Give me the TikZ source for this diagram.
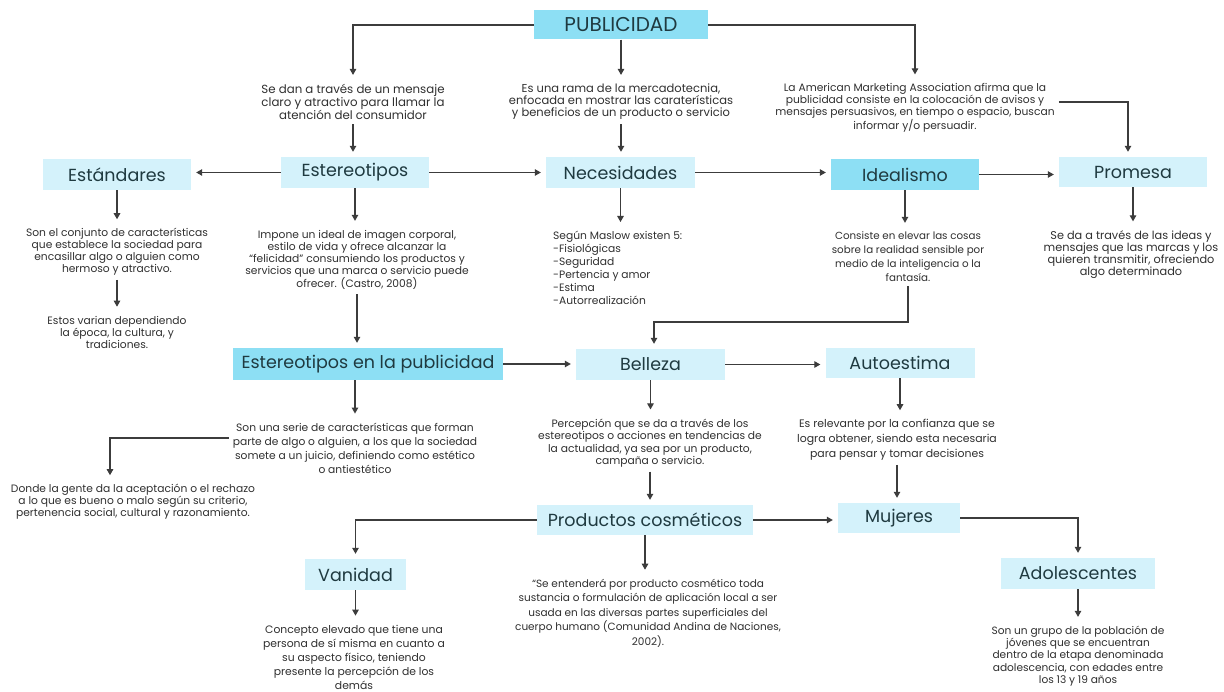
\documentclass[tikz,border=0pt]{standalone}
\usepackage{fontspec}
\setmainfont{Poppins}
\usetikzlibrary{arrows.meta}
\definecolor{lightb}{HTML}{D4F2FB}
\definecolor{strongb}{HTML}{8DDFF4}
\definecolor{ink}{HTML}{1F3A40}
\definecolor{txt}{HTML}{303030}
\definecolor{ln}{HTML}{3C3C3C}
\tikzset{
 box/.style={fill=lightb, minimum height=31pt, inner sep=0pt, text=ink, font=\fontsize{17.5}{19}\selectfont},
 sbox/.style={box, fill=strongb},
 txtn/.style={align=center, text=txt, inner xsep=4pt, inner ysep=4pt, font=\fontsize{10.7}{12}\selectfont},
 arr/.style={draw=ln, line width=1.1pt, -{Triangle[length=6pt,width=6.5pt]}, shorten >=5pt},
}
\begin{document}
\begin{tikzpicture}[x=1pt,y=-1pt]
\fill[white] (0,0) rectangle (1224,692);
\useasboundingbox (0,0) rectangle (1224,692);
% boxes
\node[sbox, minimum width=174pt, minimum height=29pt, font=\fontsize{20}{22}\selectfont] (pub) at (621,25) {PUBLICIDAD};
\node[box, minimum width=148pt] (estand) at (117,174.5) {Estándares};
\node[box, minimum width=148pt] (estereo) at (355,172.5) {Estereotipos};
\node[box, minimum width=149pt] (neces) at (620.5,172.5) {Necesidades};
\node[sbox, minimum width=148pt] (ideal) at (905,174.5) {Idealismo};
\node[box, minimum width=148pt, minimum height=30pt] (promesa) at (1133,172) {Promesa};
\node[sbox, minimum width=270pt, minimum height=32pt] (eep) at (368,364) {Estereotipos en la publicidad};
\node[box, minimum width=149pt] (belleza) at (650.5,364.5) {Belleza};
\node[box, minimum width=149pt, minimum height=30pt] (autoest) at (900,363) {Autoestima};
\node[box, minimum width=216pt, minimum height=30pt] (prod) at (645,520) {Productos cosméticos};
\node[box, minimum width=122pt, minimum height=30pt] (mujeres) at (899,518) {Mujeres};
\node[box, minimum width=101pt] (vanidad) at (355.5,574.5) {Vanidad};
\node[box, minimum width=154pt] (adol) at (1078,573.5) {Adolescentes};
% texts
\node[txtn, font=\fontsize{11.8}{11.7}\selectfont] (t1) at (353,102) {Se dan a través de un mensaje\\claro y atractivo para llamar la\\atención del consumidor};
\node[txtn, font=\fontsize{11.5}{12}\selectfont] (t2) at (621,102) {Es una rama de la mercadotecnia,\\enfocada en mostrar las caraterísticas\\y beneficios de un producto o servicio};
\node[txtn] (t3) at (915,108) {La American Marketing Association afirma que la\\publicidad consiste en la colocación de avisos y\\mensajes persuasivos, en tiempo o espacio, buscan\\informar y/o persuadir.};
\node[txtn] (t4) at (117,252) {Son el conjunto de características\\que establece la sociedad para\\encasillar algo o alguien como\\hermoso y atractivo.};
\node[txtn] (t5) at (117,332) {Estos varian dependiendo\\la época, la cultura, y\\tradiciones.};
\node[txtn] (t6) at (357,260) {Impone un ideal de imagen corporal,\\estilo de vida y ofrece alcanzar la\\“felicidad” consumiendo los productos y\\servicios que una marca o servicio puede\\ofrecer. (Castro, 2008)};
\node[txtn, align=left, anchor=north west, font=\fontsize{10.7}{13}\selectfont] (t7) at (549,227) {Según Maslow existen 5:\\-Fisiológicas\\-Seguridad\\-Pertencia y amor\\-Estima\\-Autorrealización};
\node[txtn, font=\fontsize{10.3}{14}\selectfont] (t8) at (908,257) {Consiste en elevar las cosas\\sobre la realidad sensible por\\medio de la inteligencia o la\\fantasía.};
\node[txtn, font=\fontsize{11.3}{12}\selectfont] (t9) at (1131,254.5) {Se da a través de las ideas y\\mensajes que las marcas y los\\quieren transmitir, ofreciendo\\algo determinado};
\node[txtn, font=\fontsize{10.7}{14}\selectfont] (t10) at (355,448) {Son una serie de características que forman\\parte de algo o alguien, a los que la sociedad\\somete a un juicio, definiendo como estético\\o antiestético};
\node[txtn] (t11) at (133,502) {Donde la gente da la aceptación o el rechazo\\a lo que es bueno o malo según su criterio,\\pertenencia social, cultural y razonamiento.};
\node[txtn, font=\fontsize{10.7}{12.5}\selectfont] (t12) at (650,443) {Percepción que se da a través de los\\estereotipos o acciones en tendencias de\\la actualidad, ya sea por un producto,\\campaña o servicio.};
\node[txtn, font=\fontsize{10.9}{15}\selectfont] (t13) at (897,440) {Es relevante por la confianza que se\\logra obtener, siendo esta necesaria\\para pensar y tomar decisiones};
\node[txtn, font=\fontsize{10.8}{14}\selectfont] (t14) at (354,657) {Concepto elevado que tiene una\\persona de sí misma en cuanto a\\su aspecto físico, teniendo\\presente la percepción de los\\demás};
\node[txtn, font=\fontsize{10.5}{14.5}\selectfont] (t15) at (648,613) {“Se entenderá por producto cosmético toda\\sustancia o formulación de aplicación local a ser\\usada en las diversas partes superficiales del\\cuerpo humano (Comunidad Andina de Naciones,\\2002).};
\node[txtn, font=\fontsize{10.6}{12.2}\selectfont] (t16) at (1078,656) {Son un grupo de la población de\\jóvenes que se encuentran\\dentro de la etapa denominada\\adolescencia, con edades entre\\los 13 y 19 años};
\coordinate (bk) at (654,322);
% connectors
\draw[arr] (pub.west) -| (t1.north);
\draw[arr] (pub.east) -| (t3.north);
\draw[arr] (pub.south) -- (pub.south |- t2.north);
\draw[arr] (t1.south) -- (t1.south |- estereo.north);
\draw[arr] (t2.south) -- (t2.south |- neces.north);
\draw[arr] ([yshift=6pt]t3.east) -| ([xshift=-5pt]promesa.north);
\draw[arr] (estereo.west) -- (estereo.west -| estand.east);
\draw[arr] (estereo.east) -- (estereo.east -| neces.west);
\draw[arr] (neces.east) -- (neces.east -| ideal.west);
\draw[arr] (ideal.east) -- (ideal.east -| promesa.west);
\draw[arr] (estand.south) -- (estand.south |- t4.north);
\draw[arr] (t4.south) -- (t4.south |- t5.north);
\draw[arr] (estereo.south) -- (estereo.south |- t6.north);
\draw[arr] (t6.south) -- (t6.south |- eep.north);
\draw[arr] (neces.south) -- (neces.south |- t7.north);
\draw[arr] (ideal.south) -- (ideal.south |- t8.north);
\draw[arr] (t8.south) |- (bk) -- (bk |- belleza.north);
\draw[arr] (promesa.south) -- (promesa.south |- t9.north);
\draw[arr] (eep.east) -- (eep.east -| belleza.west);
\draw[arr] (belleza.east) -- (belleza.east -| autoest.west);
\draw[arr] (t10.north |- eep.south) -- (t10.north);
\draw[arr] ([yshift=10pt]t10.west) -| ([xshift=-23pt]t11.north);
\draw[arr] (belleza.south) -- (belleza.south |- t12.north);
\draw[arr] (t12.south) -- (t12.south |- prod.north);
\draw[arr] (autoest.south) -- (autoest.south |- t13.north);
\draw[arr] (t13.south) -- (t13.south |- mujeres.north);
\draw[arr] (prod.east) -- (prod.east -| mujeres.west);
\draw[arr] (prod.west) -| (vanidad.north);
\draw[arr] (vanidad.south) -- (vanidad.south |- t14.north);
\draw[arr] (prod.south) -- (prod.south |- t15.north);
\draw[arr] (mujeres.east) -| (adol.north);
\draw[arr] (adol.south) -- (adol.south |- t16.north);
\end{tikzpicture}
\end{document}
